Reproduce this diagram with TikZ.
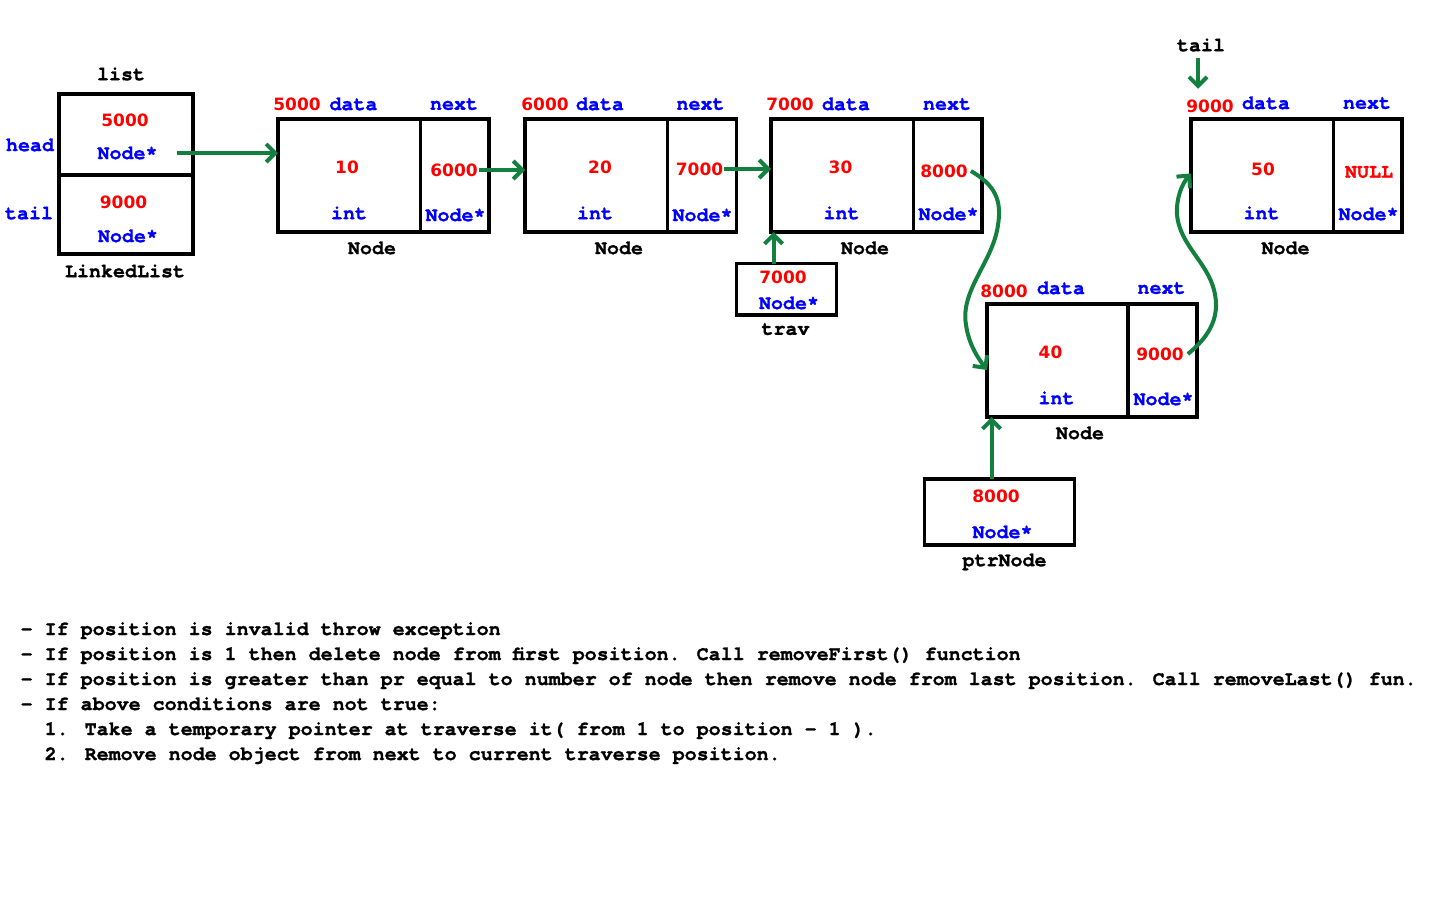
\documentclass[tikz,border=0pt]{standalone}
\usepackage{fontspec}
\usepackage{tikz}
\usetikzlibrary{arrows.meta}
\newfontfamily\codefamily{TeX Gyre Cursor}[BoldFeatures={FakeBold=1.2}]
\newfontfamily\numfamily{DejaVu Sans}
\newcommand{\codefont}{\codefamily\bfseries\fontsize{20}{24}\selectfont}
\newcommand{\numfont}{\numfamily\bfseries\fontsize{17}{20}\selectfont}
\definecolor{linkgreen}{RGB}{20,128,64}

\begin{document}
\begin{tikzpicture}[x=1pt,y=-1pt,
  cell/.style={draw, line width=3.2pt, inner sep=0pt, outer sep=0pt, anchor=north west},
  addr/.style={text=red, font=\numfont, inner sep=0pt},
  fld/.style={text=blue, font=\codefont, inner sep=0pt},
  lbl/.style={text=black, font=\codefont, inner sep=0pt},
  note/.style={text=black, font=\codefont, inner sep=0pt, anchor=base west},
  ptr/.style={draw=linkgreen, line width=4pt, -{Straight Barb[length=9pt,width=18pt]}}]
\useasboundingbox (0,0) rectangle (1440,900);

% LinkedList object
\node[cell, minimum width=134, minimum height=81] (lh) at (59,94) {};
\node[cell, minimum width=134, minimum height=79] (lt) at (lh.south west) {};
\node[lbl] (lname) at (121,74) {list};
\node[fld] (lhead) at (30,145) {head};
\node[fld] (ltail) at (29,213) {tail};
\node[addr] (hv) at (125,120) {5000};
\node[fld] (hp) at (127.5,153) {Node*};
\node[addr] (tv0) at (123.5,202) {9000};
\node[fld] (tp) at (128,236) {Node*};
\node[lbl] (ltype) at (125,271) {LinkedList};

% Node 10
\node[cell, minimum width=142.5, minimum height=113] (d1) at (278,119) {};
\node[cell, minimum width=68.5, minimum height=113] (n1) at (d1.north east) {};
\node[addr] (h1) at (297,104) {5000};
\node[fld] (dt1) at (353.5,104) {data};
\node[fld] (nx1) at (454,104) {next};
\node[addr] (v1) at (347,167) {10};
\node[fld] (ty1) at (349,213) {int};
\node[addr] (p1) at (454,170) {6000};
\node[fld] (pt1) at (455.5,215) {Node*};
\node[lbl] (nm1) at (372,248) {Node};

% Node 20
\node[cell, minimum width=142.5, minimum height=113] (d2) at (525,119) {};
\node[cell, minimum width=69, minimum height=113] (n2) at (d2.north east) {};
\node[addr] (h2) at (545,104) {6000};
\node[fld] (dt2) at (600,104) {data};
\node[fld] (nx2) at (700.5,104) {next};
\node[addr] (v2) at (600,167) {20};
\node[fld] (ty2) at (595,213) {int};
\node[addr] (p2) at (699.5,169) {7000};
\node[fld] (pt2) at (702.5,215) {Node*};
\node[lbl] (nm2) at (619,248) {Node};

% Node 30
\node[cell, minimum width=142.5, minimum height=113] (d3) at (771,119) {};
\node[cell, minimum width=68.5, minimum height=113] (n3) at (d3.north east) {};
\node[addr] (h3) at (790,104) {7000};
\node[fld] (dt3) at (846,104) {data};
\node[fld] (nx3) at (947,104) {next};
\node[addr] (v3) at (840.5,167) {30};
\node[fld] (ty3) at (841.5,213) {int};
\node[addr] (p3) at (944,171) {8000};
\node[fld] (pt3) at (948.5,214) {Node*};
\node[lbl] (nm3) at (865,248) {Node};

% trav
\node[cell, minimum width=100, minimum height=51.5] (tv) at (736.5,263.5) {};
\node[addr] (tva) at (783,277) {7000};
\node[fld] (tvp) at (789,303) {Node*};
\node[lbl] (tvn) at (785.5,329) {trav};

% Node 40
\node[cell, minimum width=141, minimum height=113] (d4) at (987,304) {};
\node[cell, minimum width=69, minimum height=113] (n4) at (d4.north east) {};
\node[addr] (h4) at (1004,291) {8000};
\node[fld] (dt4) at (1061,288) {data};
\node[fld] (nx4) at (1161.5,288) {next};
\node[addr] (v4) at (1050.5,352) {40};
\node[fld] (ty4) at (1056.5,398) {int};
\node[addr] (p4) at (1160,354) {9000};
\node[fld] (pt4) at (1163.5,399) {Node*};
\node[lbl] (nm4) at (1080,433) {Node};

% ptrNode
\node[cell, minimum width=150, minimum height=66] (pn) at (924.5,479) {};
\node[addr] (pna) at (996,496) {8000};
\node[fld] (pnp) at (1002.5,532) {Node*};
\node[lbl] (pnn) at (1004.5,562) {ptrNode};

% Node 50
\node[cell, minimum width=142.5, minimum height=113] (d5) at (1191,119) {};
\node[cell, minimum width=68.5, minimum height=113] (n5) at (d5.north east) {};
\node[lbl] (tl) at (1201,45) {tail};
\node[addr] (h5) at (1210,106) {9000};
\node[fld] (dt5) at (1266,103) {data};
\node[fld] (nx5) at (1367,103) {next};
\node[addr] (v5) at (1263,169) {50};
\node[fld] (ty5) at (1261.5,213) {int};
\node[lbl, text=red] (p5) at (1369,172) {NULL};
\node[fld] (pt5) at (1368.5,214) {Node*};
\node[lbl] (nm5) at (1285.5,248) {Node};

% links
\draw[ptr] ([xshift=19]hp.east) -- (d1.west |- hp.east);
\draw[ptr] ([xshift=1]p1.east) -- (d2.west |- p1.east);
\draw[ptr] ([xshift=1]p2.east) -- (d3.west |- p2.east);
\draw[ptr] ([xshift=3]p3.east) .. controls (995,185) and (1002,200) .. (998,225) .. controls (993,262) and (960,290) .. (966,325) .. controls (969,345) and (978,358) .. ([yshift=-9.5]d4.west);
\draw[ptr] ([xshift=4]p4.east) .. controls (1205,340) and (1222,320) .. (1214,290) .. controls (1207,262) and (1180,245) .. (1177,215) .. controls (1176,198) and (1182,184) .. ([yshift=2]d5.west);
\draw[ptr] ([xshift=-13]tv.north) -- ([xshift=-13]tv.north |- d3.south);
\draw[ptr] ([xshift=-8]pn.north) -- ([xshift=-8]pn.north |- d4.south);
\draw[ptr] ([xshift=-3,yshift=-6]tl.south) -- ++(0,31);

% steps
\node[note] (r1) at (20.5,635) {- If position is invalid throw exception};
\node[note] (r2) at (20.5,660) {- If position is 1 then delete node from first position. Call removeFirst() function};
\node[note] (r3) at (20.5,685) {- If position is greater than pr equal to number of node then remove node from last position. Call removeLast() fun.};
\node[note] (r4) at (20.5,710) {- If above conditions are not true:};
\node[note] (r5) at (44.5,735) {1. Take a temporary pointer at traverse it( from 1 to position - 1 ).};
\node[note] (r6) at (44.5,760) {2. Remove node object from next to current traverse position.};

\end{tikzpicture}
\end{document}
